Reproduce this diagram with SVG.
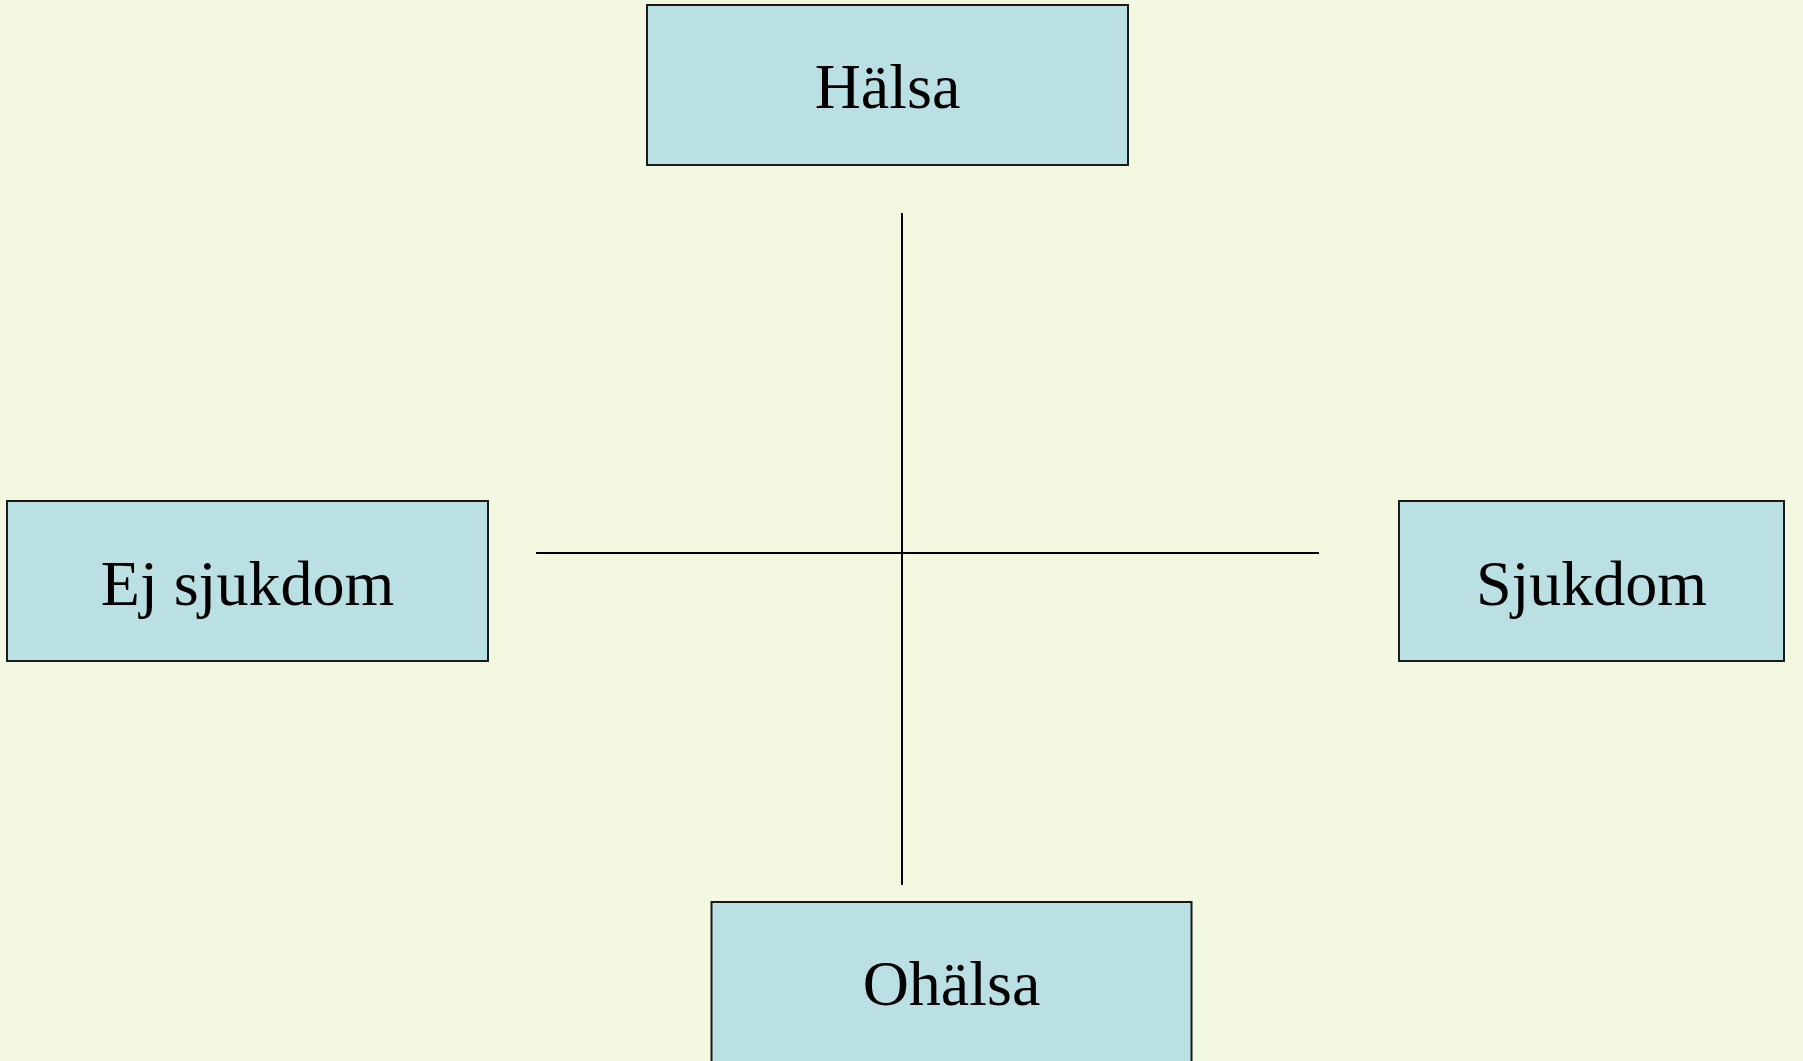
<svg xmlns="http://www.w3.org/2000/svg" width="1803" height="1061" viewBox="0 0 1803 1061">
<style>
.box{fill:#BAE0E3;stroke:#1a1a1a;stroke-width:2}
.lbl{font-family:"Liberation Serif","Times New Roman",serif;font-size:64px;fill:#000;text-anchor:middle}
.ln{stroke:#000;stroke-width:2;fill:none}
</style>
<rect x="0" y="0" width="1803" height="1061" fill="#F3F8E1"/>
<g id="connectors">
<line class="ln" x1="902" y1="213" x2="902" y2="885"/>
<line class="ln" x1="536" y1="553" x2="1319" y2="553"/>
</g>
<g id="halsa">
<rect class="box" x="647" y="5" width="481" height="160"/>
<text class="lbl" x="887.5" y="108">Hälsa</text>
</g>
<g id="ej-sjukdom">
<rect class="box" x="7" y="501" width="481" height="160"/>
<text class="lbl" x="247.5" y="605">Ej sjukdom</text>
</g>
<g id="sjukdom">
<rect class="box" x="1399" y="501" width="385" height="160"/>
<text class="lbl" x="1591.5" y="605">Sjukdom</text>
</g>
<g id="ohalsa">
<rect class="box" x="711.5" y="902" width="480" height="160"/>
<text class="lbl" x="951.5" y="1005">Ohälsa</text>
</g>
</svg>
